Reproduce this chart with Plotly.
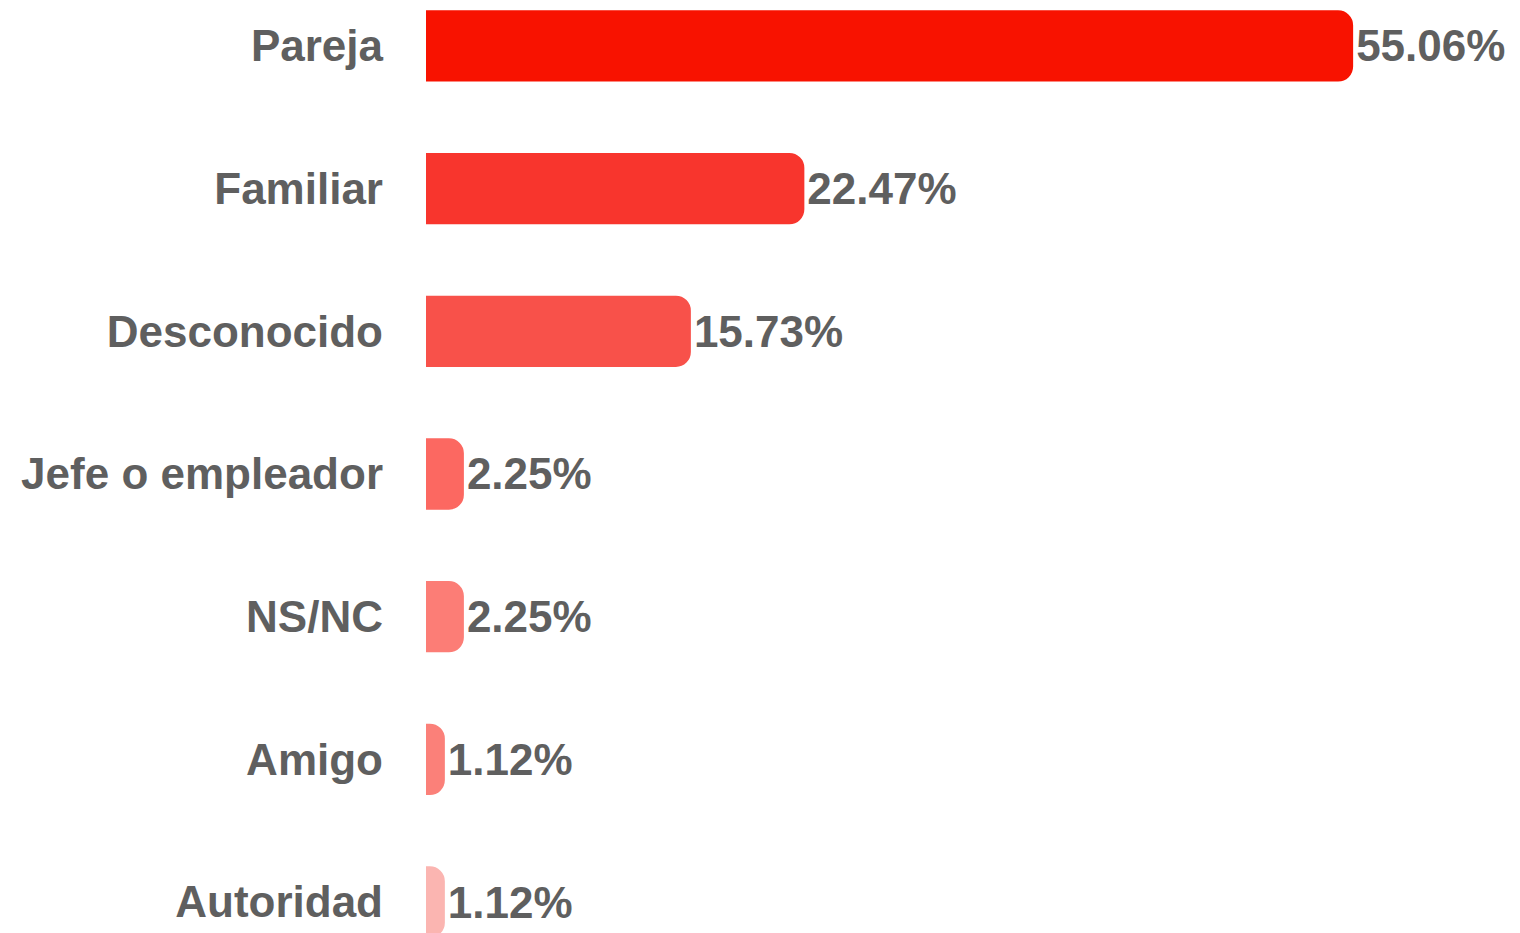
import plotly.graph_objects as go

categories = ["Pareja", "Familiar", "Desconocido", "Jefe o empleador", "NS/NC", "Amigo", "Autoridad"]
values = [55.06, 22.47, 15.73, 2.25, 2.25, 1.12, 1.12]
labels = ["55.06%", "22.47%", "15.73%", "2.25%", "2.25%", "1.12%", "1.12%"]
colors = ["#F81200", "#F8352D", "#F8514A", "#FC6861", "#FC7D76", "#FB8079", "#FBB5B1"]

FONT = "Liberation Sans"
TXT = "#5f5f5f"

fig = go.Figure(
    go.Bar(
        x=values,
        y=categories,
        orientation="h",
        marker=dict(color=colors, line=dict(width=0)),
        text=labels,
        textposition="outside",
        constraintext="none",
        cliponaxis=False,
        textfont=dict(family=FONT, size=44, color=TXT, weight="bold"),
        hoverinfo="skip",
    )
)

fig.update_layout(
    width=1520,
    height=933,
    margin=dict(l=426, r=0, t=0, b=0),
    paper_bgcolor="white",
    plot_bgcolor="white",
    bargap=0.5,
    barcornerradius=15,
    showlegend=False,
    xaxis=dict(range=[0, 64.97], visible=False, showgrid=False, zeroline=False),
    yaxis=dict(
        range=[6.217, -0.322],
        showgrid=False,
        zeroline=False,
        showline=False,
        ticks="",
        ticklabelstandoff=42,
        tickfont=dict(family=FONT, size=44, color=TXT, weight="bold"),
    ),
)

fig.write_html(
    "out.html",
    config={"displayModeBar": False},
    post_script="document.body.style.margin='0px';document.body.style.overflow='hidden';",
)
